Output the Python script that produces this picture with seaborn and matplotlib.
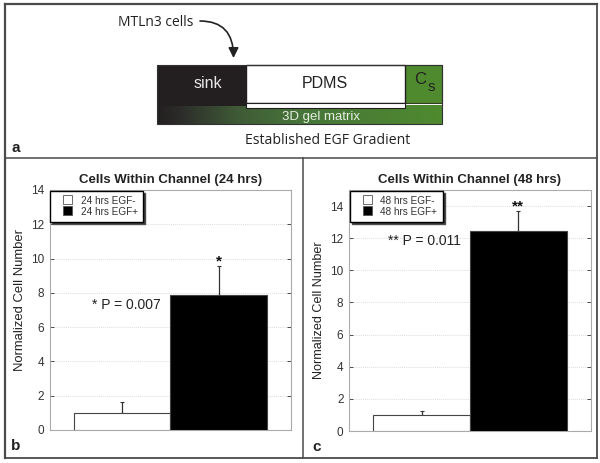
import numpy as np
import pandas as pd
import matplotlib
matplotlib.use("Agg")
import matplotlib.pyplot as plt
from matplotlib.colors import LinearSegmentedColormap
from matplotlib.patches import Rectangle, FancyArrowPatch
from matplotlib.lines import Line2D
from matplotlib.legend_handler import HandlerPatch
import seaborn as sns

W, H = 600, 463
sns.set_theme(style="white")
plt.rcParams['font.family'] = ['Liberation Sans', 'DejaVu Sans']

groups_b = ["24 hrs EGF-", "24 hrs EGF+"]
values_b = [1.0, 7.9]
errors_b = [0.65, 1.65]
groups_c = ["48 hrs EGF-", "48 hrs EGF+"]
values_c = [1.0, 12.45]
errors_c = [0.25, 1.25]
ticks_b = [0, 2, 4, 6, 8, 10, 12, 14]
ticks_c = [0, 2, 4, 6, 8, 10, 12, 14]
colors = ["white", "black"]

fig = plt.figure(figsize=(W / 100, H / 100), dpi=100, facecolor="white")


def axes_px(l, t, r, b, **kw):
    return fig.add_axes([l / W, 1 - b / H, (r - l) / W, (b - t) / H], **kw)


# Background layer in pixel coordinates
bg = axes_px(0, 0, W, H)
bg.axis("off")
border = "#4a4a4a"
for xs, ys, lw in [((5, 597), (4, 4), 1.6), ((5, 597), (158, 158), 1.1), ((5, 597), (458, 458), 1.3),
                   ((5, 5), (4, 458), 1.6), ((597, 597), (4, 458), 1.3), ((303, 303), (158, 458), 1.1)]:
    bg.add_line(Line2D(xs, ys, color=border, lw=lw, solid_capstyle="projecting"))

# Panel a: device schematic
green = "#4f8a2e"
dark = "#231f20"
gradient = LinearSegmentedColormap.from_list(
    "g", [(0, dark), (0.08, "#2c2c2a"), (0.28, "#3f5a36"), (0.5, "#47753a"), (1, green)])
bg.imshow(np.linspace(0, 1, 256).reshape(1, -1), cmap=gradient, aspect="auto",
          extent=(157, 442, 124, 105), zorder=1)
bg.set_xlim(0, W)
bg.set_ylim(H, 0)
bg.add_patch(Rectangle((157, 65), 89, 41, fc=dark, ec="none", zorder=2))
bg.add_patch(Rectangle((405, 65), 37, 38, fc=green, ec="#33401f", lw=0.8, zorder=2))
bg.add_patch(Rectangle((246, 65), 159, 38, fc="white", ec=dark, lw=1, zorder=3))
bg.add_patch(Rectangle((246, 103), 159, 5, fc="white", ec=dark, lw=0.8, zorder=3))
bg.add_patch(Rectangle((157, 65), 285, 59, fc="none", ec="#333333", lw=0.8, zorder=4))
bg.text(208, 83, "sink", color="#e8e8e8", fontsize=11.5, ha="center", va="center", zorder=5)
bg.text(325, 83.5, "PDMS", color="#222222", fontsize=11.5, ha="center", va="center", zorder=5)
bg.text(420, 79, "C", color="#222222", fontsize=12, ha="center", va="center", zorder=5)
bg.text(431, 87, "s", color="#222222", fontsize=11, ha="center", va="center", zorder=5)
bg.text(321, 117, "3D gel matrix", color="#e6efe0", fontsize=9.5, ha="center", va="center", zorder=5)
bg.text(327.5, 140.5, "Established EGF Gradient", color="#222222", fontsize=10.1,
        family="Open Sans", ha="center", va="center", zorder=5)
bg.text(118, 22, "MTLn3 cells", color="#222222", fontsize=10, family="Open Sans",
        va="center", zorder=5, ha="left")
bg.add_patch(FancyArrowPatch((200, 21), (233.5, 58), connectionstyle="angle3,angleA=0,angleB=90",
                             arrowstyle="-|>", mutation_scale=15, lw=1.2, color="#222222", zorder=5,
                             shrinkA=0, shrinkB=0))
bg.text(12, 148, "a", fontsize=11, fontweight="bold", color="#222222", va="center", ha="left")
bg.text(16, 446, "b", fontsize=11, fontweight="bold", color="#222222", va="center", ha="center")
bg.text(317, 447, "c", fontsize=11, fontweight="bold", color="#222222", va="center", ha="center")


def swatch(legend, orig_handle, xdescent, ydescent, width, height, fontsize):
    return Rectangle((5.8, 0.0), 6.5, 6.2)


def panel(rect, groups, values, errors, ticks, ymax, title, note, note_xy, star, star_y, ylab_x, ylab_y, ylab_fs):
    ax = axes_px(*rect)
    ax.patch.set_alpha(0)
    df = pd.DataFrame({"group": groups, "value": values})
    sns.barplot(data=df, x="group", y="value", hue="group", palette=colors, dodge=False,
                width=1.0, edgecolor="#444444", linewidth=0.8, legend=False, ax=ax, zorder=3)
    ax.errorbar([0, 1], values, yerr=[[0, 0], errors], fmt="none", ecolor="#333333",
                elinewidth=0.9, capsize=1.5, capthick=0.8, zorder=2)
    ax.set_xlim(-0.75, 1.75)
    ax.set_ylim(0, ymax)
    ax.set_yticks(ticks)
    ax.set_xticks([])
    ax.set_xlabel("")
    ax.set_ylabel("Normalized Cell Number", fontsize=ylab_fs, color="#222222")
    ax.yaxis.set_label_coords(ylab_x, ylab_y)
    ax.tick_params(axis="y", direction="in", length=3, width=0.6, labelsize=8.5,
                   colors="#333333", pad=4, left=True, right=True)
    ax.grid(axis="y", color="#dddddd", lw=0.7, ls=(0, (1, 1)), zorder=0)
    ax.set_axisbelow(True)
    for s in ax.spines.values():
        s.set_color("#aaaaaa")
        s.set_linewidth(0.8)
    ax.set_title(title, fontsize=9.5, fontweight="bold", color="#222222", pad=5)
    handles = [Rectangle((0, 0), 1, 1, fc=c, ec="#555555", lw=0.6) for c in colors]
    leg = ax.legend(handles, groups, loc="upper left", bbox_to_anchor=(0, 1), borderaxespad=0.05,
                    fontsize=7.2, frameon=True, fancybox=False,
                    shadow={"ox": 1.5, "oy": -1.5, "fc": "#333333", "alpha": 1},
                    edgecolor="black", framealpha=1, handlelength=1.7, handleheight=1.0,
                    labelspacing=0.15, handletextpad=0.9, borderpad=0.5, labelcolor="#333333",
                    handler_map={Rectangle: HandlerPatch(patch_func=swatch)})
    leg.set_zorder(6)
    leg.get_frame().set_linewidth(1.0)
    ax.text(*note_xy, note, fontsize=10, color="#222222", ha="right", va="center", zorder=5)
    ax.text(1, star_y, star, fontsize=11, fontweight="bold", color="#111111", ha="center", va="center", zorder=5)
    return ax


panel((49.5, 190, 291, 430), groups_b, values_b, errors_b, ticks_b, 14,
      "Cells Within Channel (24 hrs)", "* P = 0.007", (0.404, 7.3), "*", 9.85, -0.098, 0.54, 9.4)
panel((349, 190, 591, 431), groups_c, values_c, errors_c, ticks_c, 15,
      "Cells Within Channel (48 hrs)", "** P = 0.011", (0.407, 11.82), "**", 14.0, -0.1, 0.5, 9.1)

fig.savefig("out.png", dpi=100, facecolor="white")
